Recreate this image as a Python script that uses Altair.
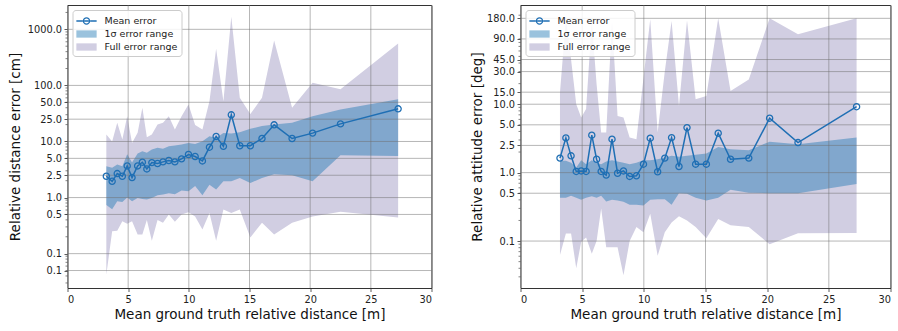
import altair as alt
import pandas as pd

# ---- data ----
x_dist = [3.2, 3.68, 4.1, 4.52, 4.92, 5.32, 5.78, 6.17, 6.54, 6.95, 7.42, 7.87, 8.35, 8.85, 9.4,
          9.97, 10.52, 11.12, 11.7, 12.25, 12.85, 13.5, 14.2, 15.07, 16.03, 17.03, 18.51, 20.2, 22.5, 27.25]

# left: relative distance error [cm]
d_mean = [2.4, 1.95, 2.68, 2.4, 3.67, 2.27, 3.67, 4.27, 3.24, 4.2, 4.05, 4.33, 4.58, 4.33, 4.9,
          5.86, 5.4, 4.5, 7.9, 12.3, 8.2, 29.9, 8.4, 8.4, 11.3, 19.8, 11.3, 14.1, 20.6, 38.2]
d_sig_hi = [3.6, 3.4, 3.9, 3.6, 5.9, 4.2, 6.1, 6.7, 6.3, 7.2, 7.7, 7.4, 8.2, 8.5, 8.8,
            9.4, 9.0, 10.1, 12.4, 11.6, 14.2, 13.9, 14.6, 16.8, 18.8, 20.0, 21.5, 28.3, 37.2, 56.4]
d_sig_lo = [0.74, 0.62, 0.86, 0.83, 1.0, 0.86, 0.98, 0.94, 0.92, 0.98, 1.1, 1.13, 1.2, 1.15, 1.33,
            1.3, 1.6, 1.1, 1.7, 1.39, 1.95, 1.95, 2.24, 1.82, 2.24, 2.6, 2.5, 1.95, 5.7, 5.5]
d_full_hi = [13.3, 10.0, 21.5, 10.8, 28.3, 9.4, 14.3, 40.0, 11.9, 13.3, 20.0, 21.5, 28.3, 16.4, 28.3,
             45.7, 19.6, 16.4, 52.0, 450.0, 52.0, 1670.0, 60.0, 31.0, 60.0, 635.0, 39.8, 111.0, 85.0, 560.0]
d_full_lo = [0.042, 0.25, 0.257, 0.38, 0.34, 0.38, 0.22, 0.22, 0.4, 0.17, 0.4, 0.355, 0.5, 0.37, 0.5,
             0.55, 0.46, 0.27, 0.53, 0.17, 0.61, 0.53, 0.61, 0.195, 0.355, 0.22, 0.355, 0.46, 0.56, 0.44]

# right: relative attitude error [deg]
a_mean = [1.63, 3.22, 1.76, 1.04, 1.06, 1.04, 3.53, 1.57, 1.04, 0.92, 3.08, 0.98, 1.06, 0.88, 0.9,
          1.33, 3.19, 1.03, 1.63, 3.25, 1.23, 4.55, 1.33, 1.33, 3.77, 1.57, 1.63, 6.25, 2.75, 9.2]
a_sig_hi = [1.49, 1.49, 1.4, 1.19, 1.52, 1.33, 1.52, 1.4, 1.33, 1.46, 1.52, 1.46, 1.4, 1.33, 1.4,
            1.52, 1.52, 1.57, 1.66, 1.76, 1.71, 1.76, 1.82, 1.9, 2.38, 2.2, 2.13, 2.84, 2.6, 3.25]
a_sig_lo = [0.43, 0.43, 0.46, 0.43, 0.40, 0.43, 0.45, 0.43, 0.46, 0.38, 0.4, 0.39, 0.375, 0.34, 0.34,
            0.33, 0.4, 0.41, 0.41, 0.34, 0.5, 0.49, 0.43, 0.39, 0.43, 0.56, 0.51, 0.5, 0.5, 0.68]
a_full_hi = [14.8, 174.0, 45.0, 10.0, 6.37, 8.5, 164.0, 19.6, 3.85, 3.85, 164.0, 6.75, 6.37, 3.25, 3.08,
             24.0, 174.0, 3.85, 30.0, 164.0, 9.4, 168.0, 11.8, 13.2, 180.0, 15.6, 23.0, 180.0, 105.0, 180.0]
a_full_lo = [0.0625, 0.129, 0.129, 0.04, 0.098, 0.113, 0.065, 0.1, 0.30, 0.081, 0.081, 0.081, 0.0316, 0.1, 0.16,
             0.134, 0.25, 0.061, 0.134, 0.187, 0.23, 0.2, 0.16, 0.11, 0.21, 0.17, 0.16, 0.09, 0.13, 0.131]

x_ticks = [0, 5, 10, 15, 20, 25, 30]
d_ticks = [0.05, 0.1, 0.5, 1.0, 2.5, 5.0, 10.0, 25.0, 50.0, 100.0, 1000.0]
a_ticks = [0.1, 0.5, 1.0, 2.5, 5.0, 10.0, 15.0, 30.0, 45.0, 90.0, 180.0]
d_domain = [0.0244, 2716.0]
a_domain = [0.0206, 282.0]

legend_labels = ["Mean error", "1σ error range", "Full error range"]

# ---- styling ----
FONT = "DejaVu Sans"
LINE_C = "#1f6fb4"
SIG_C = "#1f77b4"
FULL_C = "#d1cee2"
GRID_C = "#707070"

# legend symbol paths (unit box scaled by sqrt(size)/2 = 7 px)
MEAN_PATH = ("M-1.45,-0.1H-0.53V0.1H-1.45Z M0.53,-0.1H1.45V0.1H0.53Z M-0.36,-0.1H0.36V0.1H-0.36Z "
             "M0.53,0A0.53,0.53 0 1,0 -0.53,0A0.53,0.53 0 1,0 0.53,0Z "
             "M0.36,0A0.36,0.36 0 1,1 -0.36,0A0.36,0.36 0 1,1 0.36,0Z")
RECT_PATH = "M-1.45,-0.52H1.45V0.52H-1.45Z"


def minor_ticks(domain):
    out = []
    for k in range(-3, 5):
        for s in range(2, 10):
            v = s * 10.0 ** k
            if domain[0] <= v <= domain[1]:
                out.append(v)
    return out


def panel(mean, sig_lo, sig_hi, full_lo, full_hi, ydomain, yticks, ytitle, width, ytitle_pad):
    df = pd.DataFrame({"x": x_dist, "mean": mean, "lo1": sig_lo, "hi1": sig_hi,
                       "lo": full_lo, "hi": full_hi})
    xtitle = "Mean ground truth relative distance [m]"
    xs = alt.Scale(domain=[0, 30], nice=False, zero=False)
    ys = alt.Scale(type="log", domain=ydomain, nice=False)
    xaxis = alt.Axis(values=x_ticks, format="d", grid=False, title=xtitle, titlePadding=4,
                     titleFontWeight="normal")
    yaxis = alt.Axis(values=yticks, format=".1f", grid=False, title=ytitle, titlePadding=ytitle_pad,
                     titleFontWeight="normal")
    base = alt.Chart(df)

    full = base.mark_area(color=FULL_C, opacity=1).encode(
        x=alt.X("x:Q", scale=xs, axis=xaxis, title=xtitle),
        y=alt.Y("lo:Q", scale=ys, axis=yaxis, title=ytitle),
        y2="hi:Q",
    )
    sig = base.mark_area(color=SIG_C, opacity=0.45).encode(
        x=alt.X("x:Q", title=xtitle),
        y=alt.Y("lo1:Q", title=ytitle),
        y2="hi1:Q",
    )
    gx = alt.Chart(pd.DataFrame({"g": x_ticks})).mark_rule(
        color=GRID_C, opacity=0.5, strokeWidth=1).encode(x=alt.X("g:Q", title=xtitle))
    gy = alt.Chart(pd.DataFrame({"g": yticks})).mark_rule(
        color=GRID_C, opacity=0.5, strokeWidth=1).encode(y=alt.Y("g:Q", title=ytitle))
    line = base.mark_line(color=LINE_C, strokeWidth=1.5).encode(
        x=alt.X("x:Q", title=xtitle), y=alt.Y("mean:Q", title=ytitle))
    pts = base.mark_point(shape="circle", filled=False, color=LINE_C, size=38,
                          strokeWidth=1.3, opacity=1).encode(
        x=alt.X("x:Q", title=xtitle), y=alt.Y("mean:Q", title=ytitle))
    minor = alt.Chart(pd.DataFrame({"m": minor_ticks(ydomain)})).mark_rule(
        color="#333333", strokeWidth=0.6).encode(
        y=alt.Y("m:Q", title=ytitle), x=alt.value(0), x2=alt.value(-2))

    leg = alt.Legend(title=None, orient="top-left", offset=5, padding=4,
                     fillColor="rgba(255,255,255,0.85)", strokeColor="#cccccc",
                     cornerRadius=3, labelFont=FONT, labelFontSize=9.5, labelColor="#222222",
                     symbolSize=196, symbolStrokeWidth=0, rowPadding=1, labelOffset=11,
                     symbolOffset=3)
    dummy = alt.Chart(pd.DataFrame({"s": legend_labels})).transform_filter("false").mark_point(
        filled=True, opacity=1).encode(
        fill=alt.Fill("s:N", scale=alt.Scale(domain=legend_labels,
                                             range=[LINE_C, "rgba(31,119,180,0.45)", FULL_C]),
                      legend=leg),
        shape=alt.Shape("s:N", scale=alt.Scale(domain=legend_labels,
                                               range=[MEAN_PATH, RECT_PATH, RECT_PATH]),
                        legend=leg),
    )
    return alt.layer(full, sig, gx, gy, line, pts, minor, dummy).properties(width=width, height=283)


left = panel(d_mean, d_sig_lo, d_sig_hi, d_full_lo, d_full_hi, d_domain, d_ticks,
             "Relative distance error [cm]", 364, 5)
right = panel(a_mean, a_sig_lo, a_sig_hi, a_full_lo, a_full_hi, a_domain, a_ticks,
              "Relative attitude error [deg]", 370, 2)

chart = alt.hconcat(left, right, spacing=89, bounds="flush").resolve_scale(
    fill="independent", shape="independent"
).resolve_legend(fill="independent", shape="independent").properties(
    padding={"left": 7.5, "top": 4, "right": 0, "bottom": 0},
    background="white",
).configure_view(
    stroke="#333333", strokeWidth=1
).configure_axis(
    labelFont=FONT, labelFontSize=9.8, labelColor="#222222", labelPadding=2.5,
    tickSize=3.5, tickWidth=0.8, tickColor="#333333", domain=False,
    titleFont=FONT, titleFontSize=13.5, titleFontWeight="normal", titleColor="#111111",
)

chart.save("out.html", embed_options={"renderer": "svg", "actions": False})
